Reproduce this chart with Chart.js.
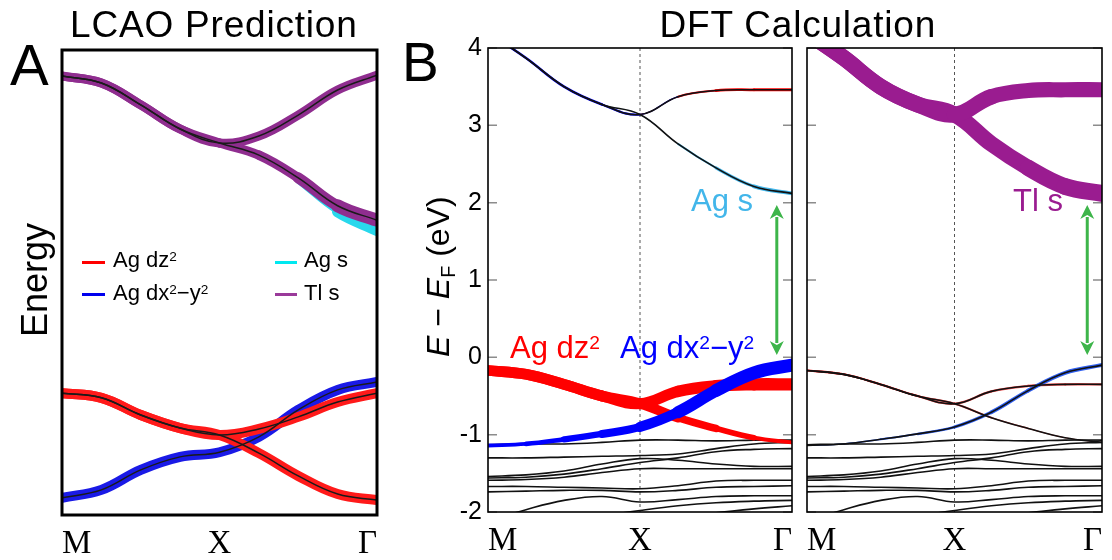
<!DOCTYPE html>
<html>
<head>
<meta charset="utf-8">
<script src="https://cdn.jsdelivr.net/npm/chart.js@4.4.1/dist/chart.umd.min.js"></script>
<style>
  body { margin: 0; background: #fff; }
  #wrap { position: relative; width: 1112px; height: 560px; overflow: hidden; font-family: "Liberation Sans", Arial, sans-serif; }
  #wrap canvas { position: absolute; left: 0; top: 0; }
  .t { position: absolute; line-height: 1; white-space: nowrap; }
  .sup { font-size: 0.62em; position: relative; top: -0.45em; }
  .sub { font-size: 0.62em; position: relative; top: 0.3em; }
  .swatch { position: absolute; height: 3px; }
</style>
</head>
<body>
<div id="wrap">
  <canvas id="chartA" width="1112" height="560"></canvas>
  <canvas id="chartB1" width="1112" height="560"></canvas>
  <canvas id="chartB2" width="1112" height="560"></canvas>
</div>
<script>
// k-path samples: M = 0, X = 1, Γ = 2
const kPoints = [0, 0.25, 0.5, 0.75, 1, 1.25, 1.5, 1.75, 2];
const kTicks = [0, 1, 2];
const kLabels = ["M", "X", "Γ"];
const energyTicks = [-2, -1, 0, 1, 2, 3, 4];

// (A) LCAO prediction (arbitrary energy units)
const lcaoTlUpper = [9.44, 9.29, 8.82, 8.3, 8.0, 8.15, 8.6, 9.14, 9.46];
const lcaoTlLower = [9.44, 9.29, 8.82, 8.3, 8.0, 7.74, 7.25, 6.65, 6.34];
const lcaoAgS = [null, null, null, null, null, null, 7.18, 6.52, 6.12];
const lcaoDz2Upper = [2.62, 2.52, 2.15, 1.87, 1.72, 1.85, 2.11, 2.43, 2.62];
const lcaoDz2Lower = [2.62, 2.52, 2.15, 1.87, 1.72, 1.33, 0.84, 0.45, 0.32];
const lcaoDx2 = [0.37, 0.54, 0.97, 1.25, 1.35, 1.68, 2.26, 2.69, 2.86];
const lcaoTlLowerWeight = [0.64, 0.64, 0.64, 0.64, 0.64, 0.66, 0.72, 0.86, 1];
const lcaoAgSWeight = [0, 0, 0, 0, 0, 0, 0.15, 0.6, 1];
const lcaoFlatWeight = [1, 1, 1, 1, 1, 1, 1, 1, 1];

// (B) DFT bands, E - EF in eV
const dftTopUpper = [4.2, 3.87, 3.5, 3.27, 3.14, 3.37, 3.45, 3.46, 3.46];
const dftTopLower = [4.2, 3.87, 3.5, 3.27, 3.14, 2.76, 2.45, 2.21, 2.12];
const dftDz2Upper = [-0.17, -0.22, -0.35, -0.5, -0.6, -0.44, -0.37, -0.35, -0.35];
const dftDz2Lower = [-0.17, -0.22, -0.35, -0.5, -0.6, -0.78, -0.92, -1.04, -1.1];
const dftDx2 = [-1.14, -1.12, -1.06, -0.99, -0.9, -0.71, -0.43, -0.2, -0.1];
const dftLowerBands = [
  [-1.13, -1.12, -1.12, -1.1, -1.07, -1.07, -1.08, -1.07, -1.07],
  [-1.3, -1.3, -1.29, -1.28, -1.27, -1.25, -1.18, -1.12, -1.1],
  [-1.54, -1.52, -1.47, -1.38, -1.31, -1.33, -1.38, -1.41, -1.41],
  [-1.56, -1.55, -1.51, -1.44, -1.36, -1.3, -1.22, -1.19, -1.18],
  [-1.59, -1.58, -1.55, -1.49, -1.44, -1.44, -1.44, -1.44, -1.44],
  [-1.67, -1.67, -1.68, -1.69, -1.7, -1.66, -1.6, -1.59, -1.59],
  [-1.74, -1.73, -1.72, -1.72, -1.74, -1.72, -1.68, -1.67, -1.66],
  [-2.12, -1.97, -1.85, -1.8, -1.87, -1.84, -1.8, -1.79, -1.79],
  [-2.25, -2.2, -2.12, -2.05, -1.98, -1.92, -1.88, -1.86, -1.85],
  [-2.4, -2.35, -2.3, -2.2, -2.1, -2.06, -2.01, -1.96, -1.92],
];
// orbital weights (0..1) along the bands
const wDz2Upper = [0.82, 0.82, 0.82, 0.82, 0.84, 0.88, 0.92, 0.95, 0.95];
const wDz2Lower = [0.82, 0.82, 0.82, 0.82, 0.84, 0.66, 0.5, 0.36, 0.25];
const wDx2 = [0.28, 0.3, 0.42, 0.55, 0.7, 0.88, 1, 1, 1];
const wTopDx2 = [0.25, 0.25, 0.25, 0.25, 0.2, 0.05, 0, 0, 0];
const wTopDz2 = [0, 0, 0, 0, 0.05, 0.15, 0.25, 0.3, 0.3];
const wTopAgS = [0, 0, 0, 0, 0.05, 0.15, 0.25, 0.35, 0.42];
const wTlUpper = [1, 1, 1, 1, 1, 0.95, 0.95, 0.95, 0.95];
const wTlLower = [1, 1, 1, 1, 1, 1, 1, 1.05, 1.08];

// band-gap arrow (k position, lower and upper tip energies)
const gapArrowK = 1.9;
const gapArrowLow = 0.03;
const gapArrowHigh = 1.97;

Chart.defaults.font.family = '"Liberation Sans", Arial, sans-serif';
Chart.defaults.color = "#000";
Chart.defaults.animation = false;

function curve(values) {
  return kPoints.map((k, i) => ({ x: k, y: values[i] }));
}

function thinLine(values, color, width, order) {
  return {
    data: curve(values),
    borderColor: color,
    borderWidth: width,
    tension: 0.4,
    pointRadius: 0,
    order: order,
  };
}

function fatLine(values, weights, color, maxWidth, order, clip) {
  return {
    data: curve(values),
    borderColor: color,
    borderWidth: maxWidth,
    borderCapStyle: "round",
    borderJoinStyle: "round",
    tension: 0.4,
    pointRadius: 0,
    order: order,
    clip: clip,
    segment: {
      borderWidth: (ctx) =>
        Math.max(0.01, (maxWidth * (weights[ctx.p0DataIndex] + weights[ctx.p1DataIndex])) / 2),
    },
  };
}

// frame, inner ticks, X divider and gap arrow
const panelDecor = {
  id: "panelDecor",
  beforeDatasetsDraw(chart, args, opts) {
    const { ctx, chartArea: a, scales } = chart;
    if (opts.divider) {
      const x = scales.x.getPixelForValue(1);
      ctx.save();
      ctx.strokeStyle = "#555";
      ctx.lineWidth = 1;
      ctx.setLineDash([3, 3]);
      ctx.beginPath();
      ctx.moveTo(x, a.top);
      ctx.lineTo(x, a.bottom);
      ctx.stroke();
      ctx.restore();
    }
  },
  afterDatasetsDraw(chart, args, opts) {
    const { ctx, chartArea: a, scales } = chart;
    ctx.save();
    if (opts.innerTicks) {
      ctx.strokeStyle = "#8c8c8c";
      ctx.lineWidth = 1.5;
      energyTicks.forEach((v) => {
        const y = scales.y.getPixelForValue(v);
        ctx.beginPath();
        ctx.moveTo(a.left, y);
        ctx.lineTo(a.left + 9, y);
        ctx.moveTo(a.right - 9, y);
        ctx.lineTo(a.right, y);
        ctx.stroke();
      });
    }
    if (opts.arrow) {
      const x = scales.x.getPixelForValue(gapArrowK);
      const y0 = scales.y.getPixelForValue(gapArrowLow);
      const y1 = scales.y.getPixelForValue(gapArrowHigh);
      const head = 14;
      ctx.strokeStyle = "#3db54a";
      ctx.fillStyle = "#3db54a";
      ctx.lineWidth = 3;
      ctx.beginPath();
      ctx.moveTo(x, y1 + head - 2);
      ctx.lineTo(x, y0 - head + 2);
      ctx.stroke();
      ctx.beginPath();
      ctx.moveTo(x, y1);
      ctx.lineTo(x - 7, y1 + head);
      ctx.lineTo(x, y1 + head - 4);
      ctx.lineTo(x + 7, y1 + head);
      ctx.closePath();
      ctx.fill();
      ctx.beginPath();
      ctx.moveTo(x, y0);
      ctx.lineTo(x - 7, y0 - head);
      ctx.lineTo(x, y0 - head + 4);
      ctx.lineTo(x + 7, y0 - head);
      ctx.closePath();
      ctx.fill();
    }
    ctx.strokeStyle = "#000";
    ctx.lineWidth = opts.frame;
    ctx.strokeRect(a.left, a.top, a.right - a.left, a.bottom - a.top);
    ctx.restore();
  },
};

function kAxis() {
  return {
    type: "linear",
    min: 0,
    max: 2,
    afterBuildTicks: (s) => {
      s.ticks = kTicks.map((v) => ({ value: v }));
    },
    afterFit: (s) => {
      s.height = 45;
    },
    grid: { display: false, drawTicks: false },
    border: { display: false },
    ticks: {
      align: "inner",
      padding: 10,
      maxRotation: 0,
      autoSkip: false,
      color: "#000",
      font: { family: '"Liberation Serif", "Times New Roman", serif', size: 33 },
      callback: (v, i) => kLabels[i],
    },
  };
}

function energyAxis(showLabels) {
  return {
    type: "linear",
    min: -2,
    max: 4,
    afterBuildTicks: (s) => {
      s.ticks = energyTicks.map((v) => ({ value: v }));
    },
    afterFit: (s) => {
      s.width = showLabels ? 60 : 0;
    },
    grid: { display: false, drawTicks: false },
    border: { display: false },
    ticks: { display: showLabels, padding: 6, color: "#000", font: { size: 25 } },
  };
}

function baseOptions(padding, scales, decor) {
  return {
    responsive: false,
    animation: false,
    layout: { padding: padding },
    scales: scales,
    plugins: { legend: { display: false }, tooltip: { enabled: false }, panelDecor: decor },
  };
}

// (A) LCAO
const aPurple = "#8f2d8f";
const aCyan = "#28d8ec";
const aRed = "#ff1a1a";
const aBlue = "#1a1ae6";
const aLine = "#1a1a1a";

new Chart(document.getElementById("chartA"), {
  type: "line",
  data: {
    datasets: [
      thinLine(lcaoTlUpper, aLine, 1.5, 0),
      thinLine(lcaoTlLower, aLine, 1.5, 0),
      thinLine(lcaoDz2Upper, aLine, 1.5, 0),
      thinLine(lcaoDz2Lower, aLine, 1.5, 0),
      thinLine(lcaoDx2, aLine, 1.5, 0),
      fatLine(lcaoTlUpper, lcaoFlatWeight, aPurple, 9, 3),
      fatLine(lcaoTlLower, lcaoTlLowerWeight, aPurple, 14, 3),
      fatLine(lcaoAgS, lcaoAgSWeight, aCyan, 14, 4),
      fatLine(lcaoDz2Upper, lcaoFlatWeight, aRed, 10, 3),
      fatLine(lcaoDz2Lower, lcaoFlatWeight, aRed, 10, 3),
      fatLine(lcaoDx2, lcaoFlatWeight, aBlue, 10, 4),
    ],
  },
  options: baseOptions(
    { left: 62, top: 50, right: 735, bottom: 0 },
    { x: kAxis(), y: { type: "linear", min: 0, max: 10, display: false } },
    { frame: 3 }
  ),
  plugins: [panelDecor],
});

// (B) DFT, orbital-projected Ag bands
const bRed = "#ff0000";
const bBlue = "#0000ff";
const bCyan = "#42b6ea";
const bPurple = "#9a1c90";
const bLine = "#111";

function blackBands(order) {
  return [dftTopUpper, dftTopLower, dftDz2Upper, dftDz2Lower, dftDx2]
    .concat(dftLowerBands)
    .map((b) => thinLine(b, bLine, 1.6, order));
}

new Chart(document.getElementById("chartB1"), {
  type: "line",
  data: {
    datasets: [
      fatLine(dftDx2, wDx2, bBlue, 13, 1),
      fatLine(dftDz2Upper, wDz2Upper, bRed, 13, 2),
      fatLine(dftDz2Lower, wDz2Lower, bRed, 13, 2),
      ...blackBands(7),
      fatLine(dftTopUpper, wTopDx2, bBlue, 10, 8, 0),
      fatLine(dftTopUpper, wTopDz2, bRed, 10, 8, 0),
      fatLine(dftTopLower, wTopAgS, bCyan, 10, 8, 0),
    ],
  },
  options: baseOptions(
    { left: 428, top: 48, right: 320, bottom: 3 },
    { x: kAxis(), y: energyAxis(true) },
    { frame: 1.6, innerTicks: true, divider: true, arrow: true }
  ),
  plugins: [panelDecor],
});

// (B) DFT, Tl s projection
new Chart(document.getElementById("chartB2"), {
  type: "line",
  data: {
    datasets: [
      fatLine(dftTopUpper, wTlUpper, bPurple, 16, 1, 0),
      fatLine(dftTopLower, wTlLower, bPurple, 16, 1, 0),
      ...blackBands(7),
      fatLine(dftDx2, wDx2, "#2f5ff0", 4, 8),
      fatLine(dftDz2Upper, wDz2Upper, "#f04a4a", 2.5, 8),
      fatLine(dftDz2Lower, wDz2Lower, "#f04a4a", 2.5, 8),
    ],
  },
  options: baseOptions(
    { left: 807, top: 48, right: 1, bottom: 3 },
    { x: kAxis(), y: energyAxis(false) },
    { frame: 1.6, innerTicks: true, divider: true, arrow: true }
  ),
  plugins: [panelDecor],
});

// Text
const wrap = document.getElementById("wrap");

function addText(html, x, baseline, size, color, opts = {}) {
  const el = document.createElement("div");
  el.className = "t";
  el.innerHTML = html;
  el.style.fontSize = size + "px";
  el.style.color = color;
  if (opts.spacing) el.style.letterSpacing = opts.spacing + "px";
  wrap.appendChild(el);
  let left = x;
  if (opts.align === "center") left = x - el.offsetWidth / 2;
  el.style.left = left + "px";
  el.style.top = baseline - 0.8465 * size + "px";
  return el;
}

function addVText(html, baselineX, centerY, size, color) {
  const el = addText(html, 0, 0, size, color);
  const w = el.offsetWidth;
  el.style.transformOrigin = "0 0";
  el.style.transform = "rotate(-90deg)";
  el.style.left = baselineX - 0.8465 * size + "px";
  el.style.top = centerY + w / 2 + "px";
}

function addSwatch(x, y, w, color) {
  const el = document.createElement("div");
  el.className = "swatch";
  el.style.left = x + "px";
  el.style.top = y - 1.5 + "px";
  el.style.width = w + "px";
  el.style.background = color;
  wrap.appendChild(el);
}

addText("LCAO Prediction", 214, 37, 37, "#000", { align: "center", spacing: 0.8 });
addText("DFT Calculation", 798, 37, 37, "#000", { align: "center", spacing: 0.8 });
addText("A", 10, 85, 58, "#000");
addText("B", 402, 82, 55, "#000");
addVText("Energy", 47, 280, 36, "#000");
addVText('<i>E</i> − <i>E</i><span class="sub">F</span> (eV)', 449, 276, 32, "#000");

// legend of panel A
addSwatch(82, 262, 23, "#ff0000");
addText('Ag dz<span class="sup">2</span>', 113, 268, 22, "#000");
addSwatch(275, 262, 22, "#00e8f0");
addText("Ag s", 304, 268, 22, "#000");
addSwatch(82, 294, 23, "#0000ee");
addText('Ag dx<span class="sup">2</span>−y<span class="sup">2</span>', 113, 301, 22, "#000");
addSwatch(275, 294, 22, "#9a3a9a");
addText("Tl s", 304, 301, 22, "#000");

// orbital labels of panel B
addText("Ag s", 691, 211, 31, bCyan);
addText("Tl s", 1013, 211, 31, bPurple);
addText('Ag dz<span class="sup">2</span>', 510, 358, 31, bRed);
addText('Ag dx<span class="sup">2</span>−y<span class="sup">2</span>', 620, 358, 31, bBlue);
</script>
</body>
</html>
